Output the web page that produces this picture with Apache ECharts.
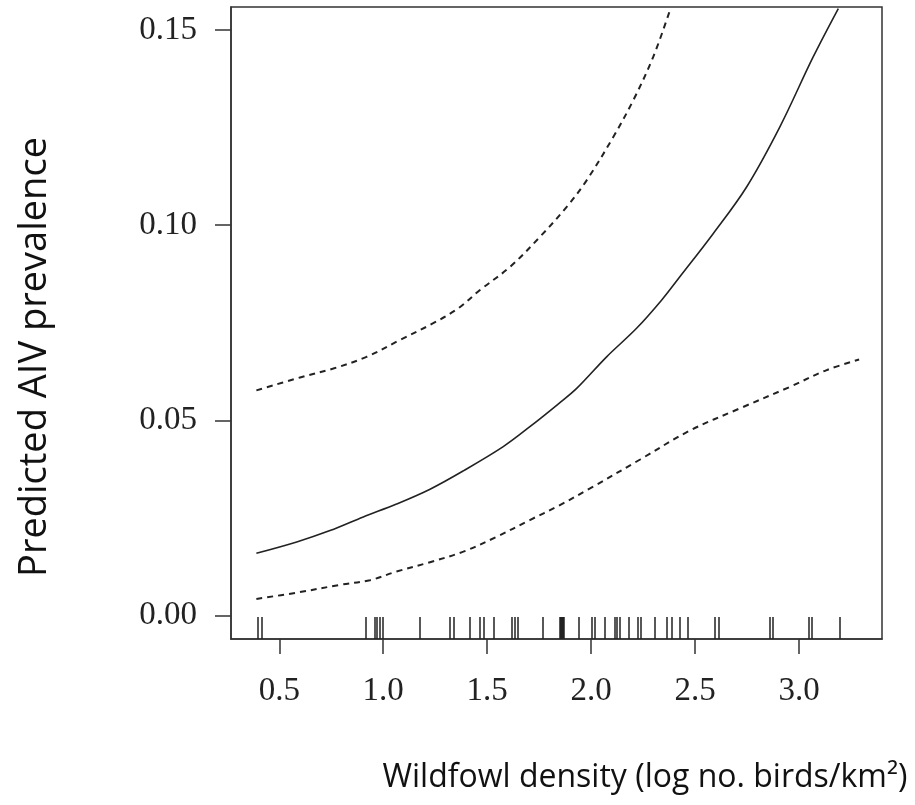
<!DOCTYPE html>
<html>
<head>
<meta charset="utf-8">
<script src="https://cdn.jsdelivr.net/npm/echarts@6/dist/echarts.min.js"></script>
<style>
  html, body { margin: 0; padding: 0; background: #fff; }
  #chart { width: 915px; height: 805px; }
</style>
</head>
<body>
<div id="chart"></div>
<script>
// fitted curve (solid)
const fitX = [0.39, 0.584, 0.744, 0.904, 1.064, 1.225, 1.385, 1.577, 1.705, 1.841, 1.93, 2.074, 2.218, 2.338, 2.426, 2.587, 2.747, 2.907, 3.067, 3.188];
const fitY = [0.016, 0.0189, 0.0218, 0.0253, 0.0286, 0.0324, 0.0371, 0.0433, 0.0484, 0.0542, 0.0582, 0.0663, 0.0736, 0.0808, 0.0868, 0.0979, 0.1098, 0.1252, 0.1431, 0.1555];

// upper confidence band (dashed)
const upX = [0.39, 0.6, 0.76, 0.92, 1.08, 1.24, 1.36, 1.465, 1.609, 1.753, 1.882, 1.978, 2.106, 2.202, 2.298, 2.378];
const upY = [0.0577, 0.061, 0.0633, 0.0663, 0.0706, 0.0749, 0.0787, 0.0834, 0.0893, 0.097, 0.1047, 0.1115, 0.1226, 0.132, 0.1431, 0.155];

// lower confidence band (dashed)
const loX = [0.39, 0.584, 0.792, 0.936, 1.064, 1.225, 1.385, 1.545, 1.705, 1.841, 1.994, 2.235, 2.474, 2.715, 2.955, 3.132, 3.288];
const loY = [0.0043, 0.0059, 0.0079, 0.0091, 0.0113, 0.0137, 0.0164, 0.0202, 0.0245, 0.0281, 0.0326, 0.040, 0.0474, 0.0531, 0.0586, 0.0629, 0.0656];

// observed densities (rug)
const rug = [0.399, 0.415, 0.917, 0.958, 0.968, 0.982, 0.997, 1.176, 1.318, 1.341, 1.415, 1.465, 1.481, 1.529,
  1.617, 1.633, 1.649, 1.769, 1.85, 1.855, 1.86, 1.865, 1.87, 1.938, 2.002, 2.018, 2.066, 2.114, 2.125, 2.138,
  2.178, 2.226, 2.239, 2.306, 2.362, 2.386, 2.426, 2.466, 2.595, 2.611, 2.859, 2.872, 3.048, 3.059, 3.196];

const xTicks = [0.5, 1.0, 1.5, 2.0, 2.5, 3.0];
const yTicks = [0, 0.05, 0.10, 0.15];

const pairs = (xs, ys) => xs.map((x, i) => [x, ys[i]]);

const xMin = 0.268, xMax = 3.398;
const yMin = -0.00597, yMax = 0.15589;

const serif = 'Liberation Serif';
const sans = 'Open Sans';

const chart = echarts.init(document.getElementById('chart'));

const curve = (name, xs, ys, type, width) => ({
  name: name, type: 'line', xAxisIndex: 0, smooth: 0.35, showSymbol: false,
  lineStyle: { color: '#222', width: width, type: type },
  data: pairs(xs, ys)
});

chart.setOption({
  animation: false,
  backgroundColor: '#fff',
  grid: {
    left: 231, top: 7, right: 33, bottom: 166,
    show: true, borderColor: '#333', borderWidth: 1.5
  },
  xAxis: [
    {
      type: 'value', min: xMin, max: xMax,
      axisLine: { show: true, onZero: false, lineStyle: { color: '#333', width: 1.5 } },
      axisTick: { show: true, inside: false, length: 15, customValues: xTicks, lineStyle: { color: '#333', width: 1.5 } },
      axisLabel: {
        customValues: xTicks, margin: 36, color: '#222',
        fontFamily: serif, fontSize: 33,
        formatter: v => v.toFixed(1)
      },
      splitLine: { show: false }
    },
    {
      // rug marks drawn as inside ticks
      type: 'value', min: xMin, max: xMax, position: 'bottom',
      axisLine: { show: false, onZero: false },
      axisTick: { show: true, inside: true, length: 22, customValues: rug, lineStyle: { color: '#222', width: 1.5 } },
      axisLabel: { show: false },
      splitLine: { show: false }
    }
  ],
  yAxis: {
    type: 'value', min: yMin, max: yMax,
    axisLine: { show: true, onZero: false, lineStyle: { color: '#333', width: 1.5 } },
    axisTick: { show: true, inside: false, length: 16, customValues: yTicks, lineStyle: { color: '#333', width: 1.5 } },
    axisLabel: {
      customValues: yTicks, margin: 34, color: '#222',
      fontFamily: serif, fontSize: 33,
      formatter: v => v.toFixed(2)
    },
    splitLine: { show: false }
  },
  graphic: [
    {
      type: 'text', x: 645, y: 778,
      style: {
        text: 'Wildfowl density (log no. birds/km²)',
        font: '32px "' + sans + '"', fill: '#111',
        textAlign: 'center', textVerticalAlign: 'middle'
      }
    },
    {
      type: 'text', x: 35, y: 357, rotation: Math.PI / 2,
      style: {
        text: 'Predicted AIV prevalence',
        font: '38px "' + sans + '"', fill: '#111',
        textAlign: 'center', textVerticalAlign: 'middle'
      }
    }
  ],
  series: [
    curve('fit', fitX, fitY, 'solid', 1.6),
    curve('upper', upX, upY, [6, 5], 2),
    curve('lower', loX, loY, [6, 5], 2)
  ]
});
</script>
</body>
</html>
